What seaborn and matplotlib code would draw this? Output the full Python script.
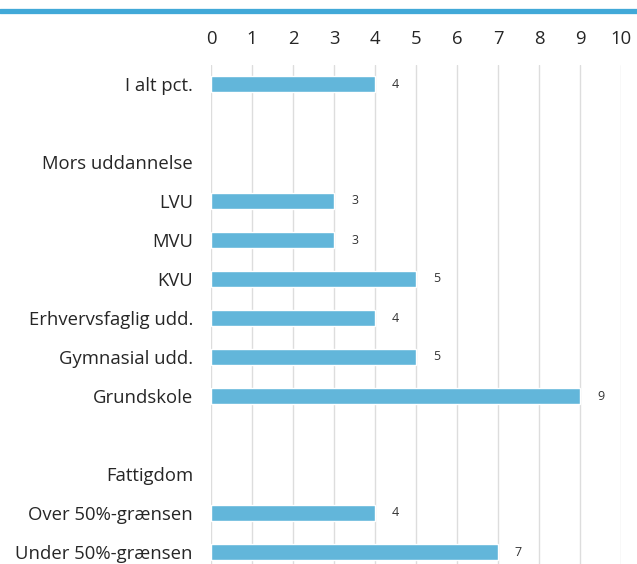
import matplotlib
matplotlib.use("Agg")
import matplotlib.pyplot as plt
from matplotlib.lines import Line2D
import numpy as np
import pandas as pd
import seaborn as sns

# rækkefølge på y-aksen (tomme rækker = mellemrum)
row_order = ["I alt pct.", " ", "Mors uddannelse", "LVU", "MVU", "KVU",
             "Erhvervsfaglig udd.", "Gymnasial udd.", "Grundskole", "  ",
             "Fattigdom", "Over 50%-grænsen", "Under 50%-grænsen"]
bar_labels = ["I alt pct.", "LVU", "MVU", "KVU", "Erhvervsfaglig udd.",
              "Gymnasial udd.", "Grundskole", "Over 50%-grænsen", "Under 50%-grænsen"]
bar_values = [4, 3, 3, 5, 4, 5, 9, 4, 7]
x_ticks = list(range(0, 11))

BAR_COLOR = "#62B6DA"
TOP_LINE = "#41A9D8"

sns.set_theme(style="white")
plt.rcParams["font.family"] = ["Open Sans", "DejaVu Sans"]

df = pd.DataFrame({"label": bar_labels, "value": bar_values})

fig = plt.figure(figsize=(6.37, 5.64), dpi=100)
ax = fig.add_axes([211 / 637, 0.0, 410 / 637, 1 - 64.5 / 564])

sns.barplot(data=df, y="label", x="value", order=row_order, color=BAR_COLOR,
            saturation=1, width=0.42, ax=ax)

for lbl, val in zip(bar_labels, bar_values):
    ax.text(val + 0.5, row_order.index(lbl), str(val), ha="center", va="center",
            fontsize=9, color="#333333")

ax.set_xlim(0, 10)
ax.set_ylim(12 + (564 - 552) / 39, -0.5)
ax.set_xticks(x_ticks)
ax.xaxis.tick_top()
ax.tick_params(axis="x", length=0, pad=12, labelsize=13.3, labelcolor="#262626")
ax.tick_params(axis="y", length=0, pad=13, labelsize=13.3, labelcolor="#262626")
ax.set_xlabel("")
ax.set_ylabel("")
ax.grid(axis="x", color="#DDDDDD", linewidth=1)
ax.set_axisbelow(True)
for s in ax.spines.values():
    s.set_visible(False)

fig.add_artist(Line2D([0, 1], [1 - 10.5 / 564] * 2, color=TOP_LINE,
                      linewidth=3.8, transform=fig.transFigure))

fig.savefig("out.png", dpi=100)
